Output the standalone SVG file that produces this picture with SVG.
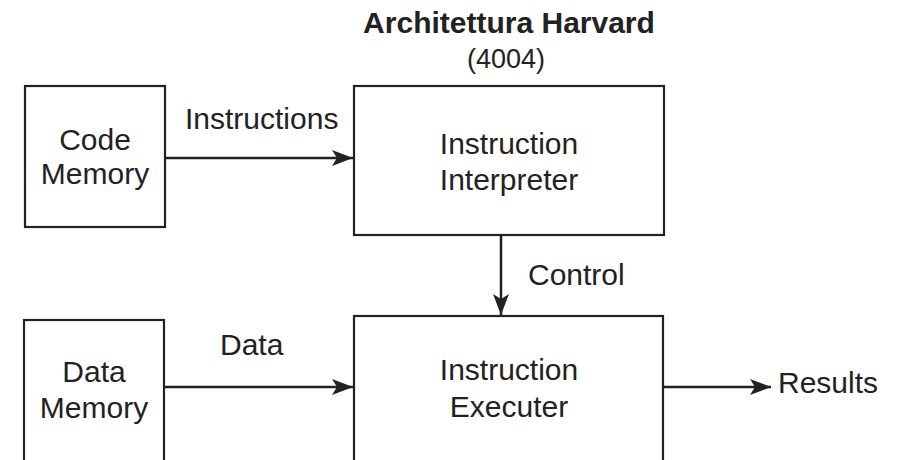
<svg xmlns="http://www.w3.org/2000/svg" width="897" height="460" viewBox="0 0 897 460">
  <style>
    .box { fill: #fff; stroke: #222; stroke-width: 2.2; }
    .wire { fill: none; stroke: #222; stroke-width: 2.5; }
    text { font-family: "Liberation Sans", Arial, sans-serif; font-size: 30px; fill: #222; }
    .mid { text-anchor: middle; }
    .title { font-weight: bold; }
  </style>
  <defs>
    <marker id="arrow" viewBox="0 0 21 16" refX="21" refY="8" markerWidth="21" markerHeight="16" markerUnits="userSpaceOnUse" orient="auto">
      <path d="M0,0 L21,8 L0,16 L5,8 Z" fill="#222"/>
    </marker>
  </defs>
  <rect width="897" height="460" fill="#fff"/>

  <text class="title mid" x="509" y="33">Architettura Harvard</text>
  <text class="mid" x="506" y="68" style="font-size:27px">(4004)</text>

  <g id="code-memory">
    <rect class="box" x="25" y="86" width="140" height="141"/>
    <text class="mid" x="95" y="150">Code</text>
    <text class="mid" x="95" y="184">Memory</text>
  </g>

  <g id="instruction-interpreter">
    <rect class="box" x="354" y="86" width="310" height="149"/>
    <text class="mid" x="509" y="154">Instruction</text>
    <text class="mid" x="509" y="190">Interpreter</text>
  </g>

  <g id="data-memory">
    <rect class="box" x="24" y="320" width="140" height="160"/>
    <text class="mid" x="94" y="382">Data</text>
    <text class="mid" x="94" y="418">Memory</text>
  </g>

  <g id="instruction-executer">
    <rect class="box" x="354" y="316" width="309" height="164"/>
    <text class="mid" x="509" y="380">Instruction</text>
    <text class="mid" x="509" y="417">Executer</text>
  </g>

  <g id="connectors">
    <line class="wire" x1="165" y1="158" x2="353" y2="158" marker-end="url(#arrow)"/>
    <text x="185" y="129">Instructions</text>

    <line class="wire" x1="501" y1="235" x2="501" y2="315" marker-end="url(#arrow)"/>
    <text x="528" y="285">Control</text>

    <line class="wire" x1="164" y1="387" x2="353" y2="387" marker-end="url(#arrow)"/>
    <text x="220" y="355">Data</text>

    <line class="wire" x1="663" y1="387" x2="771" y2="387" marker-end="url(#arrow)"/>
    <text x="778" y="393">Results</text>
  </g>
</svg>
